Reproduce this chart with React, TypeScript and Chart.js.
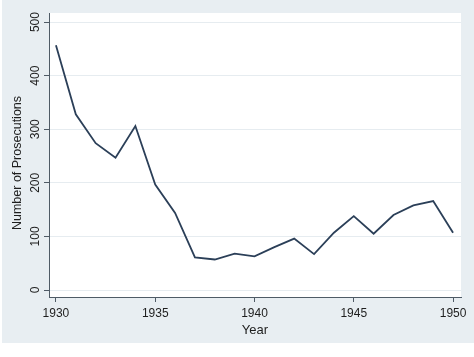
import React, { useEffect, useRef } from "react";
import { Chart, registerables } from "chart.js";

Chart.register(...registerables);

const years = [1930, 1931, 1932, 1933, 1934, 1935, 1936, 1937, 1938, 1939, 1940, 1941, 1942, 1943, 1944, 1945, 1946, 1947, 1948, 1949, 1950];
const prosecutions = [457, 328, 274, 247, 306, 197, 144, 61, 57, 68, 63, 80, 96, 67, 107, 138, 105, 140, 158, 166, 107];
const xTickValues = [1930, 1935, 1940, 1945, 1950];
const yTickValues = [0, 100, 200, 300, 400, 500];
const xTitle = "Year";
const yTitle = "Number of Prosecutions";

const FONT = "'Liberation Sans', Arial, sans-serif";
const BG = "#e8eef2";
const AXIS = "#4f5b66";
const TEXT = "#1e1e1e";

const bgPlugin = {
  id: "stataLook",
  beforeDraw(chart: any) {
    const { ctx, chartArea } = chart;
    ctx.save();
    ctx.fillStyle = "#ffffff";
    ctx.fillRect(0, 0, chart.width, chart.height);
    ctx.fillStyle = BG;
    ctx.fillRect(2, 0, chart.width - 2, 343);
    ctx.fillStyle = "#ffffff";
    ctx.fillRect(chartArea.left, chartArea.top, chartArea.right - chartArea.left, chartArea.bottom - chartArea.top);
    ctx.restore();
  },
  afterDraw(chart: any) {
    const { ctx, chartArea } = chart;
    const ys = chart.scales.y;
    const xs = chart.scales.x;
    ctx.save();
    ctx.fillStyle = TEXT;
    // y tick labels, rotated
    ctx.font = `12px ${FONT}`;
    ctx.textAlign = "center";
    ctx.textBaseline = "alphabetic";
    for (const v of yTickValues) {
      const py = ys.getPixelForValue(v);
      ctx.save();
      ctx.translate(39, py);
      ctx.rotate(-Math.PI / 2);
      ctx.fillText(String(v), 0, 0);
      ctx.restore();
    }
    // y title
    ctx.font = `12.5px ${FONT}`;
    ctx.save();
    ctx.translate(21, (chartArea.top + chartArea.bottom) / 2 + 8);
    ctx.rotate(-Math.PI / 2);
    ctx.fillText(yTitle, 0, 0);
    ctx.restore();
    // x title
    ctx.font = `13px ${FONT}`;
    ctx.fillText(xTitle, (xs.left + xs.right) / 2, 334);
    ctx.restore();
  },
};

export default function App() {
  const ref = useRef<HTMLCanvasElement>(null);
  useEffect(() => {
    if (!ref.current) return;
    const chart = new Chart(ref.current, {
      type: "line",
      data: {
        datasets: [
          {
            data: years.map((y, i) => ({ x: y, y: prosecutions[i] })),
            borderColor: "#2b3f58",
            borderWidth: 1.8,
            pointRadius: 0,
            tension: 0,
            fill: false,
          },
        ],
      },
      options: {
        animation: false,
        responsive: false,
        layout: { padding: { left: 0, right: 13, top: 13, bottom: 0 } },
        plugins: { legend: { display: false }, tooltip: { enabled: false } },
        scales: {
          x: {
            type: "linear",
            min: 1929.65,
            max: 1950.4,
            afterBuildTicks: (s: any) => {
              s.ticks = xTickValues.map((v) => ({ value: v }));
            },
            afterFit: (s: any) => {
              s.height = 60;
            },
            grid: { drawOnChartArea: false, color: AXIS, tickColor: AXIS, tickLength: 5 },
            border: { color: AXIS, width: 1 },
            ticks: {
              color: TEXT,
              font: { family: FONT, size: 12 },
              padding: 4,
              maxRotation: 0,
              callback: (v: any) => String(v),
            },
          },
          y: {
            type: "linear",
            min: -13,
            max: 517,
            afterBuildTicks: (s: any) => {
              s.ticks = yTickValues.map((v) => ({ value: v }));
            },
            afterFit: (s: any) => {
              s.width = 49;
            },
            grid: { color: "#e6ecf0", lineWidth: 1, tickColor: AXIS, tickLength: 5 },
            border: { color: AXIS, width: 1 },
            ticks: { display: false },
          },
        },
      },
      plugins: [bgPlugin],
    } as any);
    return () => chart.destroy();
  }, []);
  return (
    <div style={{ position: "absolute", left: 0, top: 0, width: 474, height: 357 }}>
      <canvas ref={ref} width={474} height={357} />
    </div>
  );
}
